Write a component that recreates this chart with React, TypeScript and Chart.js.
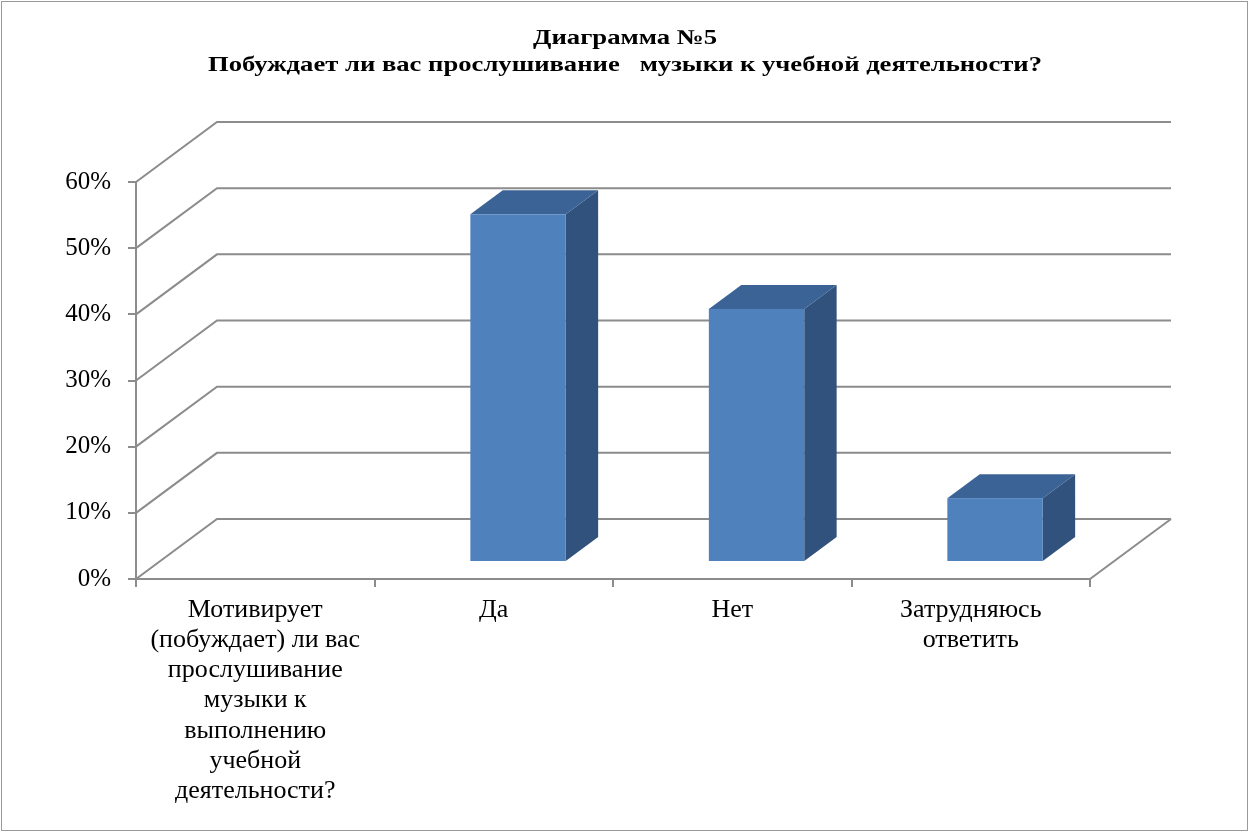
import React, { useEffect, useRef } from "react";
import { Chart, registerables } from "chart.js";

Chart.register(...registerables);

const TITLE_LINES = [
  "Диаграмма №5",
  "Побуждает ли вас прослушивание   музыки к учебной деятельности?",
];
const CATEGORIES = [
  ["Мотивирует", "(побуждает) ли вас", "прослушивание", "музыки к", "выполнению", "учебной", "деятельности?"],
  ["Да"],
  ["Нет"],
  ["Затрудняюсь", "ответить"],
];
const VALUES: (number | null)[] = [null, 0.524, 0.381, 0.095];
const Y_TICK_LABELS = ["0%", "10%", "20%", "30%", "40%", "50%", "60%"];

const W = 1249;
const H = 832;
const GRID = "#8C8C8C";
const DX = 81;
const DY = 60;
const T1 = 0.3;
const T2 = 0.7;
const FRONT = "#4F81BD";
const TOP = "#3B6396";
const SIDE = "#30527C";
const FONT = '"Liberation Serif", "Times New Roman", serif';

const threeD = {
  id: "threeD",
  beforeDraw(chart: any) {
    const ctx = chart.ctx;
    const { left, right, bottom } = chart.chartArea;
    const ys = chart.scales.y;
    ctx.save();
    ctx.fillStyle = "#fff";
    ctx.fillRect(0, 0, chart.width, chart.height);
    ctx.strokeStyle = "#9A9A9A";
    ctx.lineWidth = 1;
    ctx.strokeRect(1.5, 1.5, chart.width - 3, chart.height - 3);
    ctx.strokeStyle = GRID;
    ctx.lineWidth = 2;
    ys.ticks.forEach((t: any) => {
      const py = ys.getPixelForValue(t.value);
      ctx.beginPath();
      ctx.moveTo(left, py);
      ctx.lineTo(left + DX, py - DY);
      ctx.lineTo(right + DX, py - DY);
      ctx.stroke();
    });
    ctx.beginPath();
    ctx.moveTo(right, bottom);
    ctx.lineTo(right + DX, bottom - DY);
    ctx.stroke();
    ctx.restore();
  },
  afterDatasetsDraw(chart: any) {
    const ctx = chart.ctx;
    const xs = chart.scales.x;
    const ys = chart.scales.y;
    const catW = (chart.chartArea.right - chart.chartArea.left) / CATEGORIES.length;
    const w = catW * 0.4;
    const ox = DX * T1;
    const oy = DY * T1;
    const ddx = DX * (T2 - T1);
    const ddy = DY * (T2 - T1);
    ctx.save();
    VALUES.forEach((v, i) => {
      if (v === null || v === undefined) return;
      const cx = xs.getPixelForValue(i) + ox;
      const x0 = cx - w / 2;
      const x1 = cx + w / 2;
      const yb = ys.getPixelForValue(0) - oy;
      const yt = ys.getPixelForValue(v) - oy;
      ctx.fillStyle = SIDE;
      ctx.beginPath();
      ctx.moveTo(x1, yt);
      ctx.lineTo(x1 + ddx, yt - ddy);
      ctx.lineTo(x1 + ddx, yb - ddy);
      ctx.lineTo(x1, yb);
      ctx.closePath();
      ctx.fill();
      ctx.fillStyle = TOP;
      ctx.beginPath();
      ctx.moveTo(x0, yt);
      ctx.lineTo(x1, yt);
      ctx.lineTo(x1 + ddx, yt - ddy);
      ctx.lineTo(x0 + ddx, yt - ddy);
      ctx.closePath();
      ctx.fill();
      ctx.fillStyle = FRONT;
      ctx.fillRect(x0, yt, w, yb - yt);
    });
    ctx.restore();
  },
  afterDraw(chart: any) {
    const ctx = chart.ctx;
    ctx.save();
    ctx.fillStyle = "#000";
    ctx.textAlign = "center";
    ctx.textBaseline = "alphabetic";
    ctx.font = `bold 21px ${FONT}`;
    const baselines = [44, 71];
    const targets = [184, 834];
    TITLE_LINES.forEach((line, i) => {
      const m = ctx.measureText(line).width;
      const sx = targets[i] / m;
      ctx.save();
      ctx.translate(625, baselines[i]);
      ctx.scale(sx, 1);
      ctx.fillText(line, 0, 0);
      ctx.restore();
    });
    ctx.restore();
  },
};

export default function App() {
  const ref = useRef<HTMLCanvasElement>(null);
  useEffect(() => {
    if (!ref.current) return;
    let chart: Chart | null = null;
    let cancelled = false;
    const build = () => {
      if (cancelled || !ref.current) return;
      chart = new Chart(ref.current, {
        type: "bar",
        data: {
          labels: CATEGORIES,
          datasets: [
            {
              data: VALUES as any,
              backgroundColor: "rgba(0,0,0,0)",
              borderWidth: 0,
            },
          ],
        },
        options: {
          responsive: false,
          animation: false,
          devicePixelRatio: 1,
          layout: { padding: { left: 0, top: 182, right: W - 1090, bottom: 0 } },
          plugins: {
            legend: { display: false },
            tooltip: { enabled: false },
            title: { display: false },
          },
          scales: {
            x: {
              offset: true,
              afterFit: (s: any) => {
                s.height = H - 579;
              },
              border: { display: true, color: GRID, width: 2 },
              grid: {
                offset: true,
                drawOnChartArea: false,
                drawTicks: true,
                tickLength: 8,
                color: GRID,
                lineWidth: 2,
              },
              ticks: {
                autoSkip: false,
                maxRotation: 0,
                minRotation: 0,
                color: "#000",
                padding: 8,
                font: { family: FONT, size: 26, lineHeight: 1.16 },
              },
            },
            y: {
              min: 0,
              max: 0.6,
              afterFit: (s: any) => {
                s.width = 136;
              },
              border: { display: true, color: GRID, width: 2 },
              grid: {
                drawOnChartArea: false,
                drawTicks: true,
                tickLength: 8,
                color: GRID,
                lineWidth: 2,
              },
              ticks: {
                stepSize: 0.1,
                color: "#000",
                padding: 17,
                font: { family: FONT, size: 25 },
                callback: (_v: any, idx: number) => Y_TICK_LABELS[idx],
              },
            },
          },
        },
        plugins: [threeD],
      });
    };
    const fonts: any = (document as any).fonts;
    if (fonts && fonts.load) {
      Promise.all([
        fonts.load('24px "Liberation Serif"'),
        fonts.load('bold 20px "Liberation Serif"'),
      ])
        .catch(() => null)
        .then(build);
    } else {
      build();
    }
    return () => {
      cancelled = true;
      if (chart) chart.destroy();
    };
  }, []);
  return (
    <div style={{ position: "fixed", left: 0, top: 0, width: W, height: H, background: "#fff" }}>
      <canvas ref={ref} width={W} height={H} style={{ display: "block", width: W, height: H }} />
    </div>
  );
}
